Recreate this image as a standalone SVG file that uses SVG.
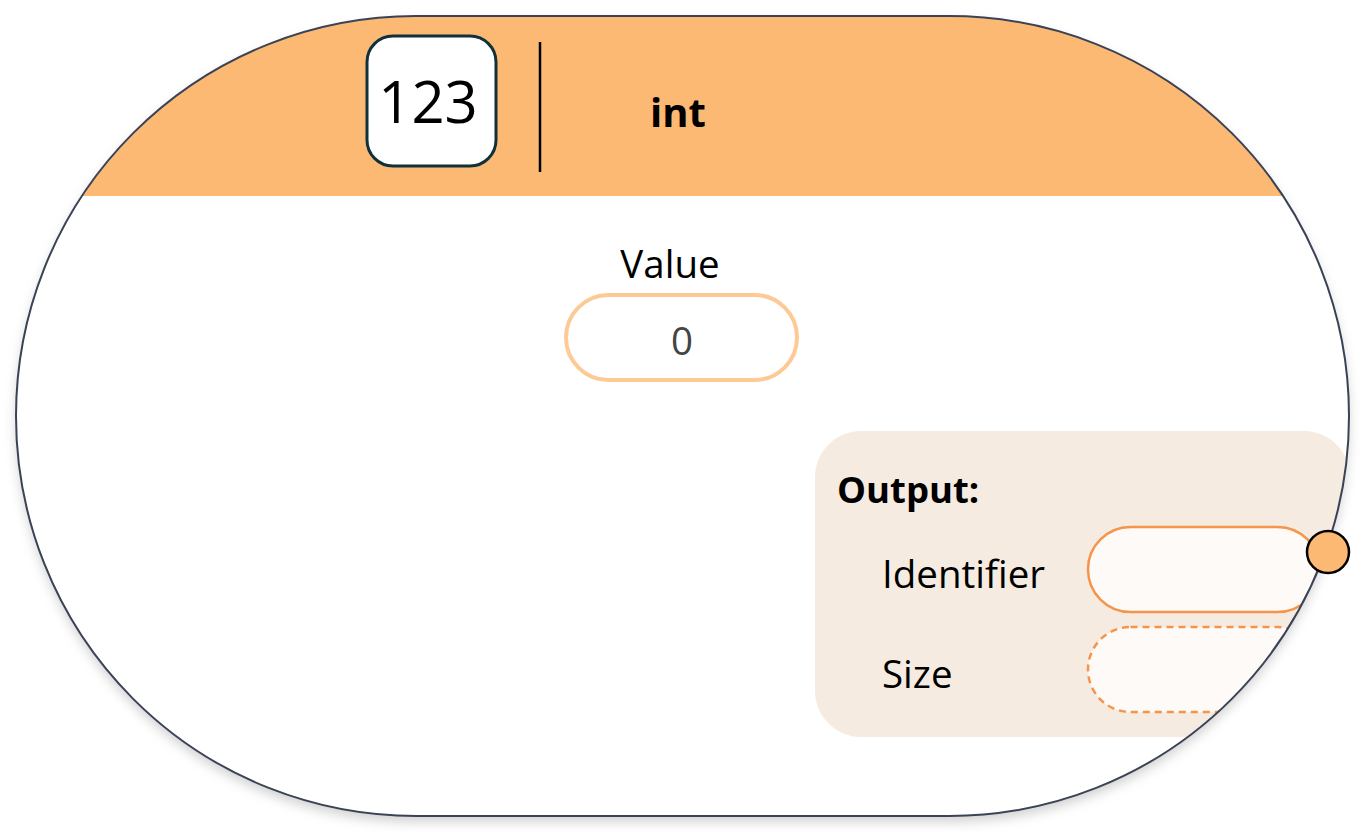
<svg xmlns="http://www.w3.org/2000/svg" width="1371" height="837" viewBox="0 0 1371 837">
<style>
  text { font-family: "Open Sans", "Noto Sans", sans-serif; fill: #000; }
  .lbl { font-size: 38.5px; }
  .bold { font-weight: 700; }
  .pill { fill: #fdfaf7; stroke: #f5944a; stroke-width: 2.5; }
</style>
<defs>
  <clipPath id="outerClip">
    <rect x="16" y="16" width="1333" height="800" rx="400" ry="400"/>
  </clipPath>
  <filter id="shadow" x="-5%" y="-5%" width="110%" height="115%">
    <feDropShadow dx="0" dy="6" stdDeviation="6" flood-color="#000" flood-opacity="0.18"/>
  </filter>
</defs>
<rect width="1371" height="837" fill="#ffffff"/>
<g id="node-int">
  <rect x="16" y="16" width="1333" height="800" rx="400" ry="400" fill="#ffffff" filter="url(#shadow)"/>
  <g clip-path="url(#outerClip)">
    <rect x="0" y="0" width="1371" height="196" fill="#fcb974"/>
    <g id="output-panel">
      <rect x="815" y="431" width="535" height="306" rx="46" ry="46" fill="#f5ebe1"/>
      <rect class="pill" x="1088" y="527" width="232" height="85" rx="42.5" ry="42.5"/>
      <rect class="pill" x="1088" y="627" width="232" height="85" rx="42.5" ry="42.5" stroke-dasharray="7 5"/>
    </g>
  </g>
  <rect x="16" y="16" width="1333" height="800" rx="400" ry="400" fill="none" stroke="#3a4255" stroke-width="2"/>
  <g id="icon">
    <rect x="367" y="36" width="129" height="130" rx="26" ry="26" fill="#ffffff" stroke="#10303a" stroke-width="3"/>
    <text x="428" y="123" font-size="58" text-anchor="middle">123</text>
  </g>
  <line x1="540" y1="42" x2="540" y2="172" stroke="#000" stroke-width="2.5"/>
  <text class="bold" x="678" y="127" font-size="40" text-anchor="middle">int</text>
  <g id="value-field">
    <text class="lbl" x="670" y="278" text-anchor="middle">Value</text>
    <rect x="566" y="295" width="231" height="85" rx="42.5" ry="42.5" fill="#ffffff" stroke="#fdca96" stroke-width="4"/>
    <text class="lbl" x="682" y="355" text-anchor="middle" style="fill:#444444">0</text>
  </g>
  <text class="bold" x="837" y="503" font-size="36.5">Output:</text>
  <text class="lbl" x="882" y="588">Identifier</text>
  <text class="lbl" x="882" y="688">Size</text>
  <g id="port">
    <circle cx="1328" cy="552" r="21" fill="#fcb974" stroke="#000" stroke-width="2.5"/>
  </g>
</g>
<g id="connectors"></g>
</svg>
